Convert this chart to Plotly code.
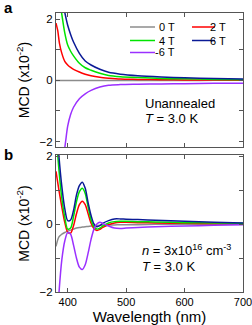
import plotly.graph_objects as go

# ---------------- data ----------------
series_names = ["0 T", "2 T", "4 T", "6 T", "-6 T"]
series_colors = ["#8c8c8c", "#ff0000", "#00e400", "#0a1a96", "#9b30ff"]

# Panel a: unannealed
wl_a = [380, 383, 386, 390, 395, 400, 405, 410, 420, 430, 440, 455, 470, 490, 520, 560, 600, 650, 700]
a_0T = [-0.01, -0.01, -0.01, -0.01, -0.01, -0.01, -0.01, -0.01, -0.01, -0.01, -0.01, -0.01, -0.01, -0.01, -0.01, -0.01, -0.01, 0.0, 0.0]
a_2T = [1.87, 1.62, 1.2, 0.88, 0.62, 0.5, 0.42, 0.36, 0.27, 0.2, 0.15, 0.1, 0.07, 0.04, 0.03, 0.02, 0.01, 0.01, 0.0]
a_4T = [3.6, 3.1, 2.7, 2.15, 1.55, 1.15, 0.95, 0.8, 0.56, 0.41, 0.33, 0.23, 0.16, 0.12, 0.09, 0.06, 0.05, 0.03, 0.02]
a_6T = [4.5, 3.7, 3.2, 2.7, 2.22, 1.8, 1.5, 1.25, 0.88, 0.63, 0.5, 0.36, 0.26, 0.2, 0.15, 0.11, 0.08, 0.06, 0.04]
a_m6T = [-4.5, -3.7, -3.2, -2.7, -2.2, -1.5, -1.12, -0.88, -0.6, -0.44, -0.33, -0.22, -0.16, -0.14, -0.13, -0.12, -0.11, -0.1, -0.1]

# Panel b: n = 3x10^16 cm^-3
wl_b = [380, 385, 390, 395, 400, 405, 410, 415, 420, 425, 430, 435, 440, 445, 450, 455, 460, 470, 480, 490, 500, 520, 550, 600, 650, 700]
b_0T = [-0.66, -0.38, -0.3, -0.25, -0.21, -0.18, -0.15, -0.12, -0.1, -0.09, -0.08, -0.07, -0.06, -0.05, -0.05, -0.04, -0.04, -0.03, -0.03, -0.02, -0.02, -0.02, -0.01, -0.01, -0.01, -0.01]
b_2T = [1.55, 1.0, 0.5, 0.05, -0.24, -0.27, -0.05, 0.3, 0.57, 0.67, 0.57, 0.3, 0.02, -0.14, -0.19, -0.16, -0.1, -0.02, 0.03, 0.05, 0.05, 0.04, 0.03, 0.02, 0.01, 0.01]
b_4T = [2.7, 1.6, 0.75, 0.2, -0.15, -0.12, 0.22, 0.65, 0.95, 1.05, 0.9, 0.5, 0.12, -0.08, -0.15, -0.12, -0.06, 0.03, 0.07, 0.08, 0.08, 0.07, 0.06, 0.04, 0.03, 0.02]
b_6T = [3.2, 2.0, 1.1, 0.45, 0.1, 0.12, 0.4, 0.85, 1.13, 1.23, 1.05, 0.62, 0.25, 0.0, -0.08, -0.05, 0.02, 0.1, 0.15, 0.15, 0.14, 0.13, 0.11, 0.08, 0.05, 0.03]
b_m6T = [-3.5, -2.05, -1.05, -0.5, -0.25, -0.3, -0.62, -1.0, -1.27, -1.34, -1.2, -0.85, -0.45, -0.15, 0.0, 0.05, 0.02, -0.06, -0.12, -0.13, -0.12, -0.1, -0.08, -0.06, -0.04, -0.02]

x_ticks = [400, 500, 600, 700]
y_major = [-2, 0, 2]
y_minor = [-1, 1]

FONT = "Liberation Sans, Arial, sans-serif"
AX = "#555555"

# ---------------- figure ----------------
W, H = 252, 325
ML, MR, MT, MB = 56, 9, 13, 33
PW, PH = W - ML - MR, H - MT - MB


def px_x(px):
    return (px - ML) / PW


def px_y(py):
    return (H - MB - py) / PH


fig = go.Figure()

a_series = [a_0T, a_2T, a_4T, a_6T, a_m6T]
b_series = [b_0T, b_2T, b_4T, b_6T, b_m6T]
for name, col, ya in zip(series_names, series_colors, a_series):
    fig.add_trace(go.Scatter(x=wl_a, y=ya, mode="lines", name=name,
                             line=dict(color=col, width=1.5, shape="spline", smoothing=0.8),
                             xaxis="x", yaxis="y", showlegend=False, hoverinfo="skip"))
for name, col, yb in zip(series_names, series_colors, b_series):
    fig.add_trace(go.Scatter(x=wl_b, y=yb, mode="lines", name=name,
                             line=dict(color=col, width=1.5, shape="spline", smoothing=0.8),
                             xaxis="x2", yaxis="y2", showlegend=False, hoverinfo="skip"))

common_x = dict(range=[380, 700], tickvals=x_ticks, ticks="inside", ticklen=4, tickcolor=AX,
                showline=True, linecolor=AX, linewidth=1, mirror="ticks", showgrid=False, zeroline=False,
                ticklabeloverflow="allow",
                tickfont=dict(size=11, color="#000", family=FONT))
common_y = dict(tickvals=y_major, ticks="inside", ticklen=4, tickcolor=AX,
                minor=dict(tickvals=y_minor, ticks="inside", ticklen=4, tickcolor=AX, showgrid=False),
                showline=True, linecolor=AX, linewidth=1, mirror="ticks", showgrid=False, zeroline=False,
                tickfont=dict(size=11.5, color="#000", family=FONT),
                title=dict(text="MCD (x10<sup>-2</sup>)", font=dict(size=14, family=FONT, color="#000"), standoff=6))

dom_a = [px_y(147), 1.0]
dom_b = [0.0, px_y(155)]

fig.update_layout(
    width=W, height=H,
    margin=dict(l=ML, r=MR, t=MT, b=MB, autoexpand=False),
    paper_bgcolor="white", plot_bgcolor="white",
    font=dict(family=FONT, color="#000"),
    showlegend=False,
    xaxis=dict(common_x, domain=[0, 1], anchor="y", showticklabels=False),
    yaxis=dict(common_y, domain=dom_a, range=[-2.18, 2.2], anchor="x"),
    xaxis2=dict(common_x, domain=[0, 1], anchor="y2",
                title=dict(text="Wavelength (nm)", font=dict(size=15, family=FONT, color="#000"), standoff=3)),
    yaxis2=dict(common_y, domain=dom_b, range=[-2.0, 2.03], anchor="x2"),
)

# manual legend (two columns) built from series names/colours
legend_rows = [27, 40.5, 52.5]
col_line = [(130, 155), (192, 215)]
col_text_right = [177, 228]
for i, (name, col) in enumerate(zip(series_names, series_colors)):
    r, c = i // 2, i % 2
    y = px_y(legend_rows[r])
    x0, x1 = col_line[c]
    fig.add_shape(type="line", xref="paper", yref="paper", x0=px_x(x0), x1=px_x(x1), y0=y, y1=y,
                  line=dict(color=col, width=1.5))
    fig.add_annotation(xref="paper", yref="paper", x=px_x(col_text_right[c]), y=y, text=name, showarrow=False,
                       xanchor="right", yanchor="middle", font=dict(size=11, family=FONT, color="#000"))

# text annotations
ann = [
    ("Unannealed", 143, 103, 13),
    ("<i>T</i> = 3.0 K", 143, 118.5, 13),
    ("<i>n</i> = 3x10<sup>16</sup> cm<sup>-3</sup>", 140, 250, 13),
    ("<i>T</i> = 3.0 K", 140, 266.5, 13),
]
for txt, x, y, s in ann:
    fig.add_annotation(xref="paper", yref="paper", x=px_x(x), y=px_y(y), text=txt, showarrow=False,
                       xanchor="left", yanchor="middle", font=dict(size=s, family=FONT, color="#000"))

for lab, y in [("<b>a</b>", 8), ("<b>b</b>", 154)]:
    fig.add_annotation(xref="paper", yref="paper", x=px_x(2), y=px_y(y), text=lab, showarrow=False,
                       xanchor="left", yanchor="middle", font=dict(size=15, family=FONT, color="#000"))

fig.write_html("out.html", config={"displayModeBar": False, "staticPlot": True},
               post_script="document.body.style.margin='0';document.body.style.overflow='hidden';")
